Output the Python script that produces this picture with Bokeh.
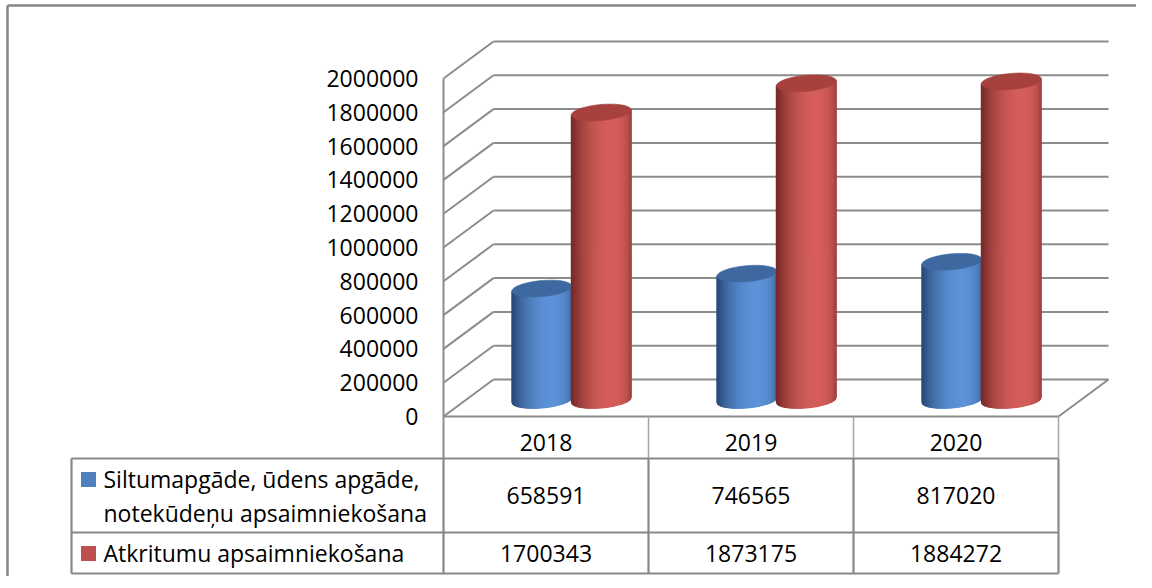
import numpy as np
from bokeh.plotting import figure
from bokeh.models import Range1d
from bokeh.core.properties import value
from bokeh.embed import file_html
from bokeh.resources import INLINE

# ---------------- data ----------------
years = ["2018", "2019", "2020"]
series_labels = [["Siltumapgāde, ūdens apgāde,", "notekūdeņu apsaimniekošana"],
                 ["Atkritumu apsaimniekošana"]]
heat_water = [658591, 746565, 817020]
waste = [1700343, 1873175, 1884272]
y_ticks = [0, 200000, 400000, 600000, 800000, 1000000,
           1200000, 1400000, 1600000, 1800000, 2000000]
series_values = [heat_water, waste]

# ---------------- layout / style ----------------
W, H = 1136, 576
PAGE = 0
CAT_PX = 205.0          # pixels per category
AXIS_PX = 443           # x of front-left axis
FLOOR_PX = 416          # y of value 0 on front plane
VPP = 1e6 / 169.0       # value units per pixel


def px_x(px):
    return (px - AXIS_PX) / CAT_PX


def px_y(py):
    return (FLOOR_PX - py) * VPP


X0, X1 = px_x(PAGE), px_x(PAGE + W)
Y0, Y1 = px_y(PAGE + H), px_y(PAGE)

DX = 50 / CAT_PX        # depth offset
DY = 37 * VPP
MID = 0.45              # bars sit at this fraction of depth
BAR_POS = [0.37, 0.66]  # centre of each series inside a category
BAR_R = 0.146           # half width in category units
ELL_E = 8 * VPP         # ellipse half height
TILT = 2.5 * VPP        # perspective tilt of ellipses

GRID = "#8c8c8c"
FONT = value("Open Sans")
FS = "23px"
DARK = ["#2a4c7a", "#7a2b29"]
LIGHT = ["#5d92d8", "#d55e5a"]
TOP = ["#3e69a0", "#a6413e"]
MARK = ["#4f81bd", "#c0504d"]

p = figure(width=W, height=H, x_range=Range1d(X0, X1), y_range=Range1d(Y0, Y1),
           output_backend="svg", toolbar_location=None, min_border=0,
           x_axis_location=None, y_axis_location=None)
p.grid.visible = False
p.outline_line_color = None
p.background_fill_color = "white"

n_cat = len(years)

# outer border (left & top only)
p.segment(x0=[px_x(7), px_x(7)], y0=[Y0, px_y(5)],
          x1=[px_x(7), X1], y1=[px_y(5), px_y(5)],
          line_color="#868686", line_width=2.5)

# ---------------- walls ----------------
ticks = np.array(y_ticks, dtype=float)
p.segment(x0=[DX] * len(ticks), y0=ticks + DY, x1=[n_cat + DX] * len(ticks), y1=ticks + DY,
          line_color=GRID, line_width=2)
p.segment(x0=[0] * len(ticks), y0=ticks, x1=[DX] * len(ticks), y1=ticks + DY,
          line_color=GRID, line_width=2)
p.segment(x0=[n_cat, 0], y0=[0, 0], x1=[n_cat + DX, n_cat], y1=[DY, 0],
          line_color=GRID, line_width=2)
p.segment(x0=[0], y0=[0], x1=[0], y1=[ticks.max()], line_color=GRID, line_width=2)

# y tick labels
p.text(x=[px_x(AXIS_PX - 25)] * len(ticks), y=ticks, text=[str(int(t)) for t in y_ticks],
       text_font=FONT, text_font_size=FS, text_align="right", text_baseline="middle",
       text_color="black")


# ---------------- cylinders ----------------
def mix(c1, c2, k):
    a = np.array([int(c1[i:i + 2], 16) for i in (1, 3, 5)], dtype=float)
    b = np.array([int(c2[i:i + 2], 16) for i in (1, 3, 5)], dtype=float)
    c = a + (b - a) * k
    return "#%02x%02x%02x" % tuple(int(round(v)) for v in c)


NS = 60
us = np.linspace(-1, 1, NS + 1)
for s, vals in enumerate(series_values):
    xs_all, ys_all, cols = [], [], []
    tx, ty = [], []
    for i, v in enumerate(vals):
        cx = i + BAR_POS[s] + MID * DX
        y0 = MID * DY
        yt = v + MID * DY
        for j in range(NS):
            ua, ub = us[j], us[j + 1]
            xa, xb = cx + ua * BAR_R, cx + ub * BAR_R
            ba = y0 + ua * TILT - ELL_E * np.sqrt(max(0.0, 1 - ua * ua))
            bb = y0 + ub * TILT - ELL_E * np.sqrt(max(0.0, 1 - ub * ub))
            ta = yt + ua * TILT
            tb = yt + ub * TILT
            um = 0.5 * (ua + ub)
            th = np.arcsin(um)
            k = max(0.0, np.cos(th - 0.35)) ** 1.2
            xs_all.append([xa, xb, xb, xa])
            ys_all.append([ba, bb, tb, ta])
            cols.append(mix(DARK[s], LIGHT[s], k))
        t = np.linspace(0, 2 * np.pi, 80)
        tx.append(list(cx + BAR_R * np.cos(t)))
        ty.append(list(yt + TILT * np.cos(t) + ELL_E * np.sin(t)))
    p.patches(xs=xs_all, ys=ys_all, fill_color=cols, line_color=cols, line_width=1.2)
    p.patches(xs=tx, ys=ty, fill_color=TOP[s], line_color=TOP[s], line_width=0.6)

# ---------------- data table ----------------
hdr_bot = px_y(458)
row_sep = px_y(532)
tbl_bot = px_y(573)
leg_left = px_x(71)
HDR = "#a6a6a6"
BODY = "#888888"

p.segment(x0=list(range(1, n_cat + 1)), y0=[0] * n_cat, x1=list(range(1, n_cat + 1)), y1=[hdr_bot] * n_cat,
          line_color=HDR, line_width=1.5)
p.segment(x0=[0], y0=[0], x1=[0], y1=[hdr_bot], line_color=GRID, line_width=2)
p.segment(x0=[leg_left] * 3, y0=[hdr_bot, row_sep, tbl_bot], x1=[n_cat] * 3, y1=[hdr_bot, row_sep, tbl_bot],
          line_color=BODY, line_width=2.2)
vx = [leg_left] + list(range(0, n_cat + 1))
p.segment(x0=vx, y0=[hdr_bot] * len(vx), x1=vx, y1=[tbl_bot] * len(vx),
          line_color=BODY, line_width=2.2)

p.text(x=[i + 0.5 for i in range(n_cat)], y=[px_y(442)] * n_cat, text=years,
       text_font=FONT, text_font_size=FS, text_align="center", text_baseline="middle",
       text_color="black")
row_y = [px_y(495), px_y(553)]
for s, vals in enumerate(series_values):
    p.text(x=[i + 0.5 for i in range(n_cat)], y=[row_y[s]] * n_cat, text=[str(v) for v in vals],
           text_font=FONT, text_font_size=FS, text_align="center", text_baseline="middle",
           text_color="black")

p.scatter(x=[px_x(88)] * 2, y=[px_y(479), px_y(553)], marker="square", size=15,
          fill_color=MARK, line_color=None)
p.text(x=[px_x(103)] * 2, y=[px_y(478), px_y(512)], text=series_labels[0],
       text_font=FONT, text_font_size=FS, text_align="left", text_baseline="middle", text_color="black")
p.text(x=[px_x(103)], y=[px_y(552)], text=series_labels[1],
       text_font=FONT, text_font_size=FS, text_align="left", text_baseline="middle", text_color="black")

open("out.html", "w").write(file_html(p, INLINE))
